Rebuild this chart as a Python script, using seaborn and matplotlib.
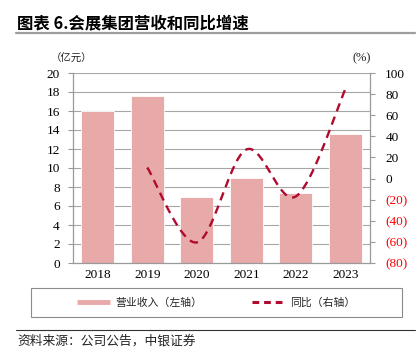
import numpy as np
import pandas as pd
import matplotlib
matplotlib.use("Agg")
import matplotlib.pyplot as plt
import seaborn as sns
from matplotlib.lines import Line2D
from matplotlib.patches import Rectangle

# ---- data ----
years = ["2018", "2019", "2020", "2021", "2022", "2023"]
revenue = [16.0, 17.6, 7.0, 8.9, 7.4, 13.6]          # 亿元
yoy = [np.nan, 10.5, -60.5, 27.5, -17.0, 84.5]       # %
left_ticks = [0, 2, 4, 6, 8, 10, 12, 14, 16, 18, 20]
right_ticks = [-80, -60, -40, -20, 0, 20, 40, 60, 80, 100]

title = "图表 6.会展集团营收和同比增速"
left_unit = "（亿元）"
right_unit = "(%)"
legend_bar = "营业收入（左轴）"
legend_line = "同比（右轴）"
source = "资料来源：公司公告，中银证券"

bar_color = "#E8A9A9"
line_color = "#B00A2E"
grid_color = "#A6A6A6"
axis_color = "#9A9A9A"

sns.set_theme(style="white")
plt.rcParams['font.family'] = ['Liberation Serif', 'Noto Sans CJK SC', 'DejaVu Sans']
cjk = ['Noto Sans CJK SC', 'DejaVu Sans']

W, H = 420, 360
fig = plt.figure(figsize=(W / 100, H / 100), dpi=100)
fig.patch.set_facecolor("white")

x0, x1, y0, y1 = 73, 370, 73, 263
ax = fig.add_axes([x0 / W, 1 - y1 / H, (x1 - x0) / W, (y1 - y0) / H])

df = pd.DataFrame({"year": years, "revenue": revenue})
sns.barplot(data=df, x="year", y="revenue", color=bar_color, saturation=1,
            width=0.66, edgecolor="white", linewidth=0.6, ax=ax, zorder=2)
ax.set_xlim(-0.5, len(years) - 0.5)
ax.set_ylim(0, 20)
ax.set_yticks(left_ticks)
ax.set_xlabel("")
ax.set_ylabel("")
ax.grid(False)
for y in left_ticks[1:]:
    ax.axhline(y, color=grid_color, lw=0.8, zorder=1)

# x ticks: labels at centers, tick marks at boundaries
ax.set_xticks(range(len(years)))
ax.set_xticklabels(years)
ax.set_xticks(np.arange(-0.5, len(years), 1.0), minor=True)
ax.tick_params(axis="x", which="major", length=0, pad=4, labelsize=9.5, colors="black")
ax.tick_params(axis="x", which="minor", length=4, width=0.8, color=axis_color, direction="out")
ax.tick_params(axis="y", which="major", length=3.5, width=0.8, color=axis_color,
               direction="out", pad=6, labelsize=9.5, labelcolor="black")
for s in ["top", "right"]:
    ax.spines[s].set_visible(False)
for s in ["left", "bottom"]:
    ax.spines[s].set_color(axis_color)
    ax.spines[s].set_linewidth(0.9)

# secondary axis
ax2 = ax.twinx()
ax2.set_ylim(-80, 100)
ax2.set_yticks(right_ticks)
ax2.set_yticklabels([f"({-v})" if v < 0 else f"{v}" for v in right_ticks])
for lab, v in zip(ax2.get_yticklabels(), right_ticks):
    lab.set_color("#FF0000" if v < 0 else "black")
ax2.tick_params(axis="y", length=3.5, width=0.8, color=axis_color, direction="out",
                pad=7.5, labelsize=9.5)
for s in ["top", "left", "bottom"]:
    ax2.spines[s].set_visible(False)
ax2.spines["right"].set_color(axis_color)
ax2.spines["right"].set_linewidth(0.9)
ax2.grid(False)

# smoothed (Catmull-Rom) growth line drawn through data points
xs = np.array([i for i, v in enumerate(yoy) if not np.isnan(v)], dtype=float)
ys = np.array([v for v in yoy if not np.isnan(v)], dtype=float)
pts = np.column_stack([xs, ys])
P = np.vstack([pts[:1], pts, pts[-1:]])
segs = []
t = np.linspace(0, 1, 40)[:, None]
for i in range(1, len(P) - 2):
    p0, p1, p2, p3 = P[i - 1], P[i], P[i + 1], P[i + 2]
    seg = 0.5 * ((2 * p1) + (-p0 + p2) * t + (2 * p0 - 5 * p1 + 4 * p2 - p3) * t ** 2
                 + (-p0 + 3 * p1 - 3 * p2 + p3) * t ** 3)
    segs.append(seg if i == 1 else seg[1:])
curve = np.vstack(segs)
ax2.plot(curve[:, 0], curve[:, 1], color=line_color, lw=1.7,
         linestyle=(0, (3.6, 2.4)), solid_capstyle="butt", zorder=3)

# units
fig.text(71.5 / W, 1 - 59 / H, left_unit, ha="center", va="center", fontsize=7.5,
         family=cjk, color="#222222")
fig.text(362 / W, 1 - 58 / H, right_unit, ha="center", va="center", fontsize=9,
         color="#222222")

# title and rules
fig.text(17 / W, 1 - 23 / H, title, ha="left", va="center", fontsize=11.8,
         fontweight="bold", family=cjk, color="black")
fig.add_artist(Line2D([16 / W, 415 / W], [1 - 33 / H, 1 - 33 / H], color="#9E9E9E", lw=1.6))
fig.add_artist(Line2D([16 / W, 415 / W], [1 - 329.5 / H, 1 - 329.5 / H], color="#333333", lw=0.8))

# legend box + legend
fig.add_artist(Rectangle((30.7 / W, 1 - 317 / H), (401.7 - 30.7) / W, (317 - 288) / H,
                         transform=fig.transFigure, fill=False, edgecolor="#8C8C8C", lw=0.8))
handles = [Line2D([], [], color=bar_color, lw=3.5, solid_capstyle="butt"),
           Line2D([], [], color=line_color, lw=2.2, linestyle=(0, (2.2, 1.6)))]
fig.legend(handles, [legend_bar, legend_line], loc="center",
           bbox_to_anchor=(216 / W, 1 - 302.5 / H), ncol=2, frameon=False,
           prop={"family": cjk, "size": 7.8}, handlelength=3.0, handletextpad=0.5,
           columnspacing=4.6)

# source
fig.text(17 / W, 1 - 341 / H, source, ha="left", va="center", fontsize=9.2,
         family=cjk, style="italic", color="#222222")

fig.savefig("out.png", dpi=100)
